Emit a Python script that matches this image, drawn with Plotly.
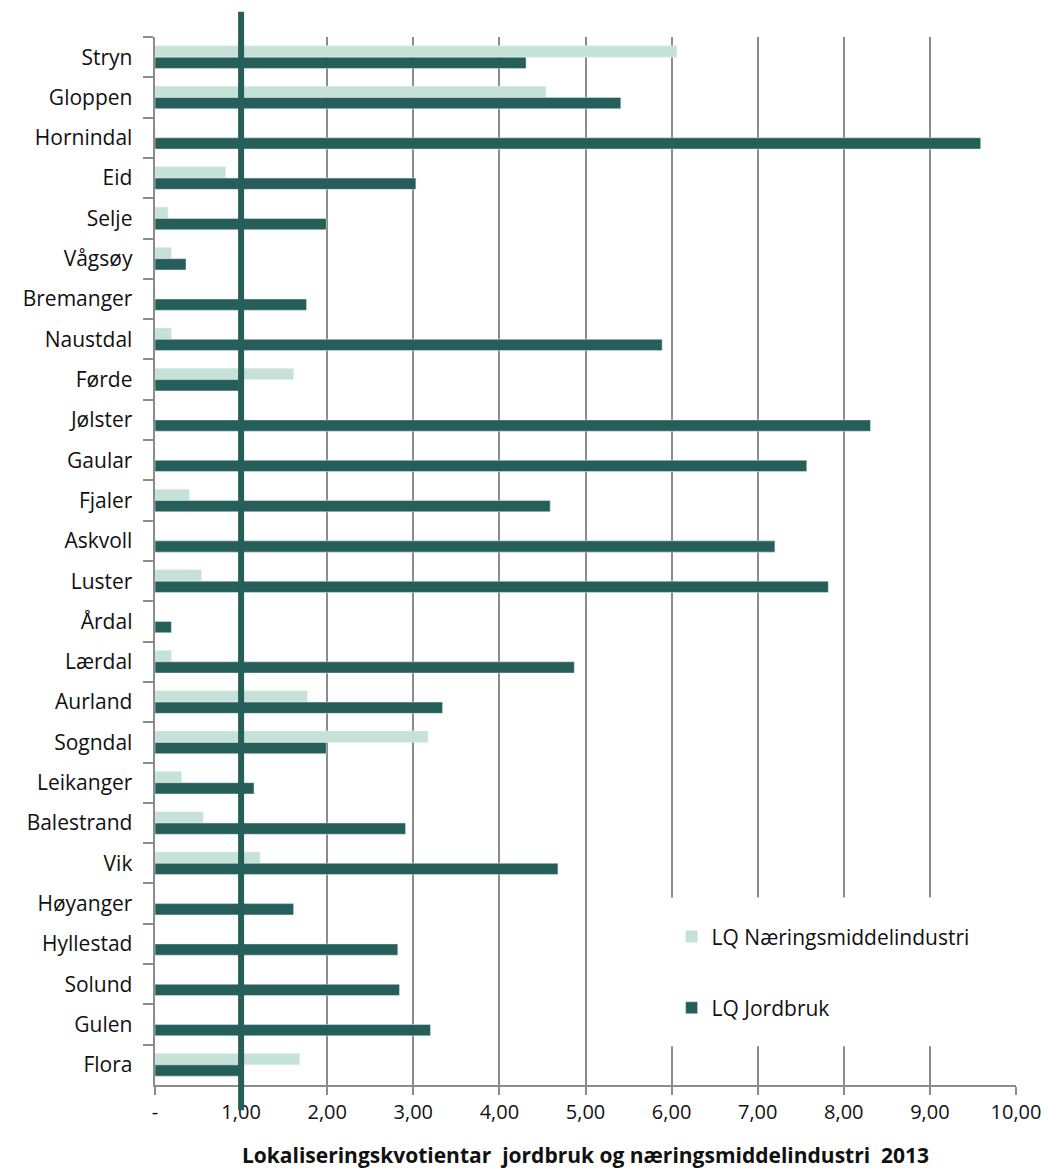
import plotly.graph_objects as go

kommunar = [
    "Stryn", "Gloppen", "Hornindal", "Eid", "Selje", "Vågsøy", "Bremanger",
    "Naustdal", "Førde", "Jølster", "Gaular", "Fjaler", "Askvoll", "Luster",
    "Årdal", "Lærdal", "Aurland", "Sogndal", "Leikanger", "Balestrand", "Vik",
    "Høyanger", "Hyllestad", "Solund", "Gulen", "Flora",
]
lq_naeringsmiddel = [
    6.06, 4.54, 0, 0.82, 0.15, 0.19, 0,
    0.19, 1.61, 0, 0, 0.40, 0, 0.54,
    0, 0.19, 1.77, 3.17, 0.31, 0.56, 1.22,
    0, 0, 0, 0, 1.68,
]
lq_jordbruk = [
    4.31, 5.41, 9.59, 3.03, 1.99, 0.36, 1.76,
    5.89, 0.97, 8.31, 7.57, 4.59, 7.20, 7.82,
    0.19, 4.87, 3.34, 1.99, 1.15, 2.91, 4.68,
    1.61, 2.82, 2.84, 3.20, 0.98,
]
x_ticks = [0, 1, 2, 3, 4, 5, 6, 7, 8, 9, 10]
x_ticktext = ["-", "1,00", "2,00", "3,00", "4,00", "5,00", "6,00", "7,00", "8,00", "9,00", "10,00"]
ref_line = 1.0

LIGHT = "#c6e2d7"
DARK = "#265f59"
GREY = "#8c8c8c"
FONT = "Open Sans"

fig = go.Figure()
fig.add_trace(go.Bar(
    y=kommunar, x=lq_naeringsmiddel, orientation="h",
    name="LQ Næringsmiddelindustri", marker_color=LIGHT, legendgroup="a",
))
fig.add_trace(go.Bar(
    y=kommunar, x=lq_jordbruk, orientation="h",
    name="LQ Jordbruk", marker_color=DARK, legendgroup="b",
))

# thick reference line at LQ = 1
fig.add_shape(
    type="line", xref="x", yref="paper",
    x0=ref_line, x1=ref_line, y0=-0.024, y1=1.024,
    line=dict(color=DARK, width=6), layer="above",
)
# white box behind the legend (hides the gridlines like the original)
fig.add_shape(
    type="rect", xref="paper", yref="paper",
    x0=0.553, x1=1.05, y0=0.037, y1=0.179,
    fillcolor="white", line_width=0, layer="above",
)

# page body has an 8px margin, so the figure is drawn slightly smaller
fig.update_layout(
    width=1041, height=1165,
    margin=dict(l=147, r=33, t=29, b=88),
    paper_bgcolor="white", plot_bgcolor="white",
    font=dict(family=FONT, size=20, color="#111111"),
    barmode="group", bargap=0.44, bargroupgap=0,
    showlegend=True,
    legend=dict(
        x=0.6, y=0.161, xanchor="left", yanchor="top",
        bgcolor="rgba(0,0,0,0)", font=dict(size=21, family=FONT),
        traceorder="grouped", tracegroupgap=41, itemwidth=30,
    ),
)
fig.update_xaxes(
    range=[0, 10], tickvals=x_ticks, ticktext=x_ticktext,
    showgrid=True, gridcolor=GREY, gridwidth=2,
    showline=True, linecolor=GREY, linewidth=2,
    ticks="outside", ticklen=8, tickcolor=GREY, tickwidth=2,
    tickfont=dict(size=20), zeroline=False, automargin=False,
    title=dict(
        text="<b>Lokaliseringskvotientar  jordbruk og næringsmiddelindustri  2013</b>",
        font=dict(size=21), standoff=24,
    ),
)
fig.update_yaxes(
    categoryorder="array", categoryarray=kommunar, autorange="reversed",
    showgrid=False, showline=True, linecolor=GREY, linewidth=2,
    ticks="outside", tickson="boundaries", ticklen=10, tickcolor=GREY, tickwidth=2,
    tickfont=dict(size=21), ticksuffix="   ", automargin=False,
)

fig.write_html("out.html")
